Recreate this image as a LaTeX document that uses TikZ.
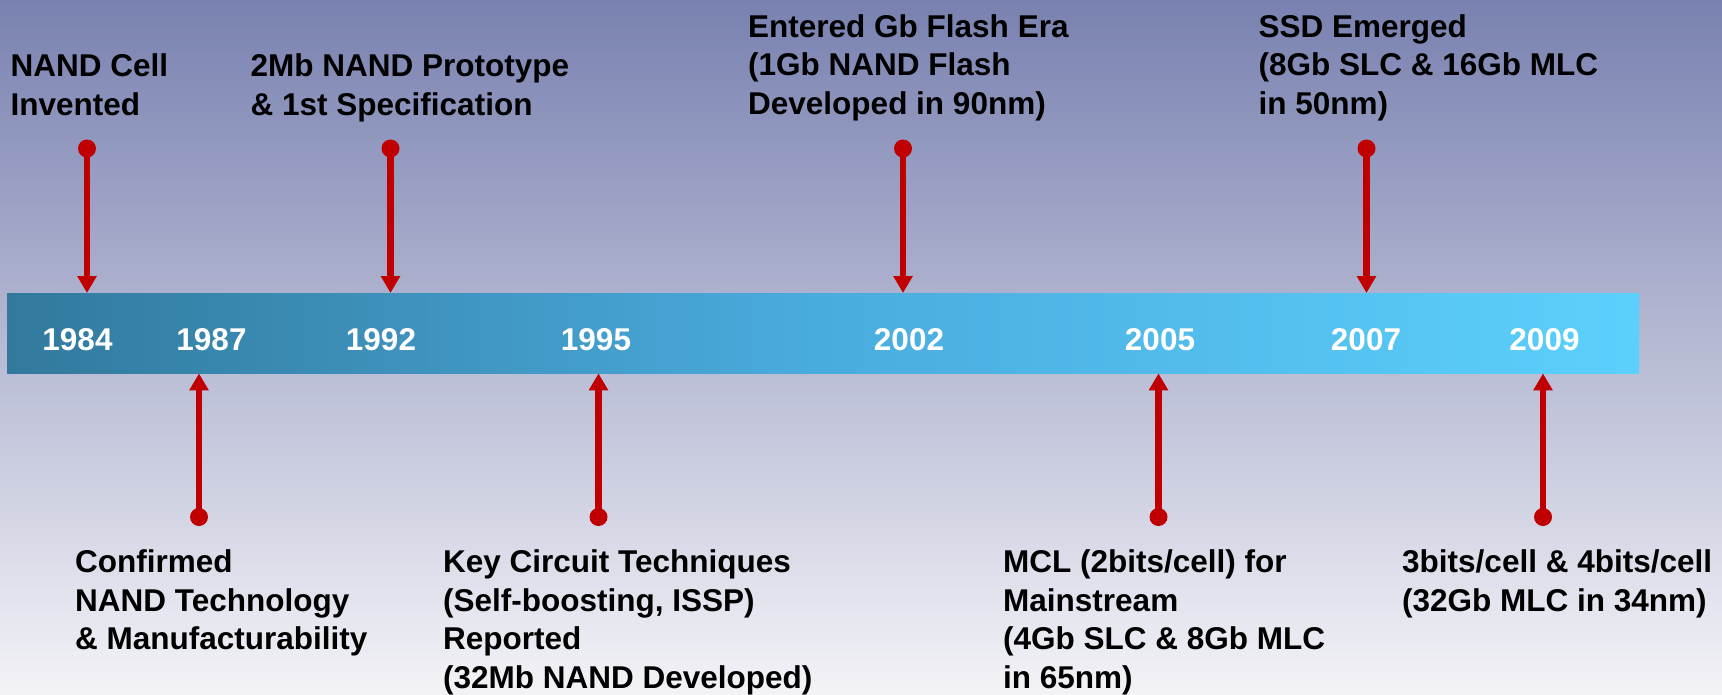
\documentclass[tikz,border=0pt]{standalone}
\usepackage{fontspec}
\setmainfont{Liberation Sans}
\usetikzlibrary{arrows.meta}
\definecolor{bgtop}{RGB}{121,129,176}
\definecolor{bgmid}{RGB}{186,189,211}
\definecolor{bgbot}{RGB}{243,243,247}
\definecolor{barL}{RGB}{50,121,157}
\definecolor{barM}{RGB}{74,172,222}
\definecolor{barR}{RGB}{92,208,252}
\definecolor{arrred}{RGB}{192,0,0}
\newcommand\firstln{\rule{0pt}{25pt}}
\tikzset{
  txtfont/.style={font=\fontsize{31.5}{38.5}\selectfont\bfseries},
  lbl/.style={txtfont, text=black, align=left, anchor=north west, inner sep=0pt},
  yearlbl/.style={txtfont, text=white, anchor=base, inner sep=0pt},
  dotnode/.style={circle, fill=arrred, draw=none, minimum size=18pt, inner sep=0pt},
  arr/.style={draw=arrred, line width=6.2pt, -{Triangle[length=17pt,width=18.5pt]}},
  barbox/.style={rectangle, draw=none, left color=barL, right color=barR, middle color=barM,
    minimum width=1632pt, minimum height=80pt, inner sep=0pt, anchor=north west}
}
\begin{document}
\begin{tikzpicture}[x=1pt,y=-1pt]
\useasboundingbox (0,0) rectangle (1722,694);
\shade[top color=bgtop, middle color=bgmid, bottom color=bgbot] (0,0) rectangle (1722,694);

\node[barbox] (bar) at (7,293) {};

% years
\node[yearlbl] (y1984) at (77.5,350) {1984};
\node[yearlbl] (y1987) at (211.5,350) {1987};
\node[yearlbl] (y1992) at (381,350) {1992};
\node[yearlbl] (y1995) at (596,350) {1995};
\node[yearlbl] (y2002) at (909,350) {2002};
\node[yearlbl] (y2005) at (1160,350) {2005};
\node[yearlbl] (y2007) at (1366,350) {2007};
\node[yearlbl] (y2009) at (1544.5,350) {2009};

% top dots
\node[dotnode] (d1984) at (87,148.5) {};
\node[dotnode] (d1992) at (390.5,148.5) {};
\node[dotnode] (d2002) at (903,148.5) {};
\node[dotnode] (d2007) at (1366.5,148.5) {};
% bottom dots
\node[dotnode] (d1987) at (199,517) {};
\node[dotnode] (d1995) at (598.5,517) {};
\node[dotnode] (d2005) at (1158.5,517) {};
\node[dotnode] (d2009) at (1543,517) {};

% arrows
\foreach \d in {d1984,d1992,d2002,d2007}{
  \draw[arr] (\d.center) -- (\d |- bar.north);
}
\foreach \d in {d1987,d1995,d2005,d2009}{
  \draw[arr] (\d.center) -- (\d |- bar.south);
}

% top labels
\node[lbl] (t1984) at (10.5,51.5) {\firstln NAND Cell\\Invented};
\node[lbl] (t1992) at (250.5,51.5) {\firstln 2Mb NAND Prototype\\\& 1st Specification};
\node[lbl] (t2002) at (748,12) {\firstln Entered Gb Flash Era\\(1Gb NAND Flash\\Developed in 90nm)};
\node[lbl] (t2007) at (1258.5,12) {\firstln SSD Emerged\\(8Gb SLC \& 16Gb MLC\\in 50nm)};

% bottom labels
\node[lbl] (t1987) at (75,547.5) {\firstln Confirmed\\NAND Technology\\\& Manufacturability};
\node[lbl] (t1995) at (443,547.5) {\firstln Key Circuit Techniques\\(Self-boosting, ISSP)\\Reported\\(32Mb NAND Developed)};
\node[lbl] (t2005) at (1003,547.5) {\firstln MCL (2bits/cell) for\\Mainstream\\(4Gb SLC \& 8Gb MLC\\in 65nm)};
\node[lbl] (t2009) at (1402,547.5) {\firstln 3bits/cell \& 4bits/cell\\(32Gb MLC in 34nm)};
\end{tikzpicture}
\end{document}
